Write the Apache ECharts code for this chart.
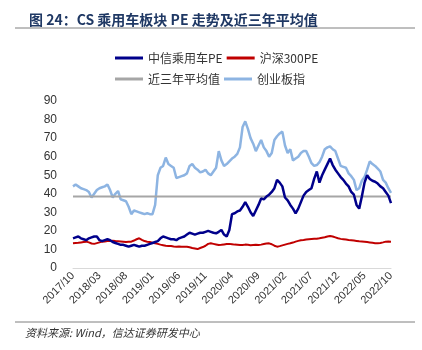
<!DOCTYPE html>
<html>
<head>
<meta charset="utf-8">
<script src="https://cdn.jsdelivr.net/npm/echarts@6/dist/echarts.min.js"></script>
<style>
  html, body { margin: 0; padding: 0; background: #fff; }
  #main { width: 422px; height: 350px; }
</style>
</head>
<body>
<div id="main"></div>
<script>
// 半月频率，2017/10 - 2022/10
var months = ['2017/10','2017/11','2017/12','2018/01','2018/02','2018/03','2018/04','2018/05','2018/06','2018/07','2018/08','2018/09','2018/10','2018/11','2018/12',
  '2019/01','2019/02','2019/03','2019/04','2019/05','2019/06','2019/07','2019/08','2019/09','2019/10','2019/11','2019/12',
  '2020/01','2020/02','2020/03','2020/04','2020/05','2020/06','2020/07','2020/08','2020/09','2020/10','2020/11','2020/12',
  '2021/01','2021/02','2021/03','2021/04','2021/05','2021/06','2021/07','2021/08','2021/09','2021/10','2021/11','2021/12',
  '2022/01','2022/02','2022/03','2022/04','2022/05','2022/06','2022/07','2022/08','2022/09','2022/10'];
var categories = [];
months.forEach(function (m, i) {
  categories.push(m);
  if (i < months.length - 1) categories.push(m + '/16');
});

var carPE = [16,16.5,17,16,15.5,15,16,16.5,17,17,15,14.5,15,15.5,15,14,13.5,13,12.5,12.5,
  12,11.5,12,12.5,12,11.5,12,12,12.5,13,13.5,14,14.5,16,17,16.5,16,15.5,15.5,15,
  16,16.5,17,18,19,18.5,18,18.5,19,19,19.5,20,19.5,19,18.7,19.5,20.5,18,17,20.5,
  29,29.5,30.5,31,33,35.5,33,30,28,31,34,37.5,37,38.5,39.5,41,43,47.5,46,44,
  38,36.5,34,32,29.5,32,35.5,39,41,42,43,48,52,46,50,53,56,59,55.5,53,
  51,49,47.5,45.5,44,41,39.5,34,32,38.5,46,50,48,47,46.5,45.5,44,43,41,39,35];

var hs300PE = [13.3,13.5,13.6,13.8,14,14.2,13.8,13.2,13,13.4,13.8,14.2,14.3,14.5,14.6,14.7,14.5,14.4,14.3,14.2,
  14,14.1,14.2,14.8,15.5,16,15.2,14.5,14.2,14,13.6,13.3,13,12.6,12.3,12,11.9,11.8,11.6,11.5,
  11.6,11.5,11.4,11.5,11.2,10.8,10.5,10.2,10.8,11.3,12,13,13.3,13,12.7,12.4,12.5,12.7,12.9,13,
  12.8,12.6,12.5,12.4,12.4,12.6,12.5,12.3,12.4,12.5,12.4,12.6,12.9,13.2,13.3,12.8,12,11.5,11.8,12.2,
  12.6,13,13.3,13.7,14.2,14.6,15,15.1,15.3,15.5,15.6,15.7,15.8,16,16.3,16.6,17,17.3,17,16.5,
  16,15.7,15.5,15.3,15.1,15,14.8,14.6,14.4,14.3,14.2,14,13.8,13.6,13.4,13.3,13.5,13.8,14.2,14.3,14.2];

var cybIndex = [44,45,44,43,42.5,42,41,38,40,42,43,43.5,44,45,42,38,40,41.5,37,36.5,
  36,33,29,31,30.5,30,29.5,29,29.5,29,29,34,50,54,55,59.5,56,55,54,48.5,
  49,49.5,50,51,55,56,54,53,51.5,52,53,51,50,52,54,63,58,55,56,57.5,
  59,60,61.5,65,76,79,75,70,67,63,66,69,65,63,60,62,69,71,72.5,73.5,
  66,62,64,58,59,60,62,63,63,60,56.5,55,55.5,57,60,64,65,65.5,64,63,
  59,55,54.5,54,51,49.5,47.5,42,43,47,49,53,57.5,56,55,53.5,52,47.5,46,43,40.5];

var avgPE = 38.5;
var avgLine = categories.map(function () { return avgPE; });

var yTicks = [0, 10, 20, 30, 40, 50, 60, 70, 80, 90];

var chart = echarts.init(document.getElementById('main'));
var cjk = '"Noto Sans CJK SC", sans-serif';

chart.setOption({
  animation: false,
  title: {
    text: '图 24：CS 乘用车板块 PE 走势及近三年平均值',
    left: 24,
    top: 8,
    textStyle: { fontSize: 14, fontWeight: 'bold', color: '#1F3864', fontFamily: cjk }
  },
  graphic: [
    { type: 'line', shape: { x1: 15, y1: 28, x2: 415, y2: 28 }, style: { stroke: '#7f7f7f', lineWidth: 1 } },
    { type: 'line', shape: { x1: 15, y1: 322, x2: 415, y2: 322 }, style: { stroke: '#7f7f7f', lineWidth: 1 } },
    { type: 'text', left: 25, top: 327, style: { text: '资料来源: Wind，信达证券研发中心', fontSize: 11, fontStyle: 'italic', fill: '#333', fontFamily: cjk } }
  ],
  legend: [
    {
      data: ['中信乘用车PE', '沪深300PE'],
      left: 110, top: 47,
      itemWidth: 28, itemHeight: 3, itemGap: 4,
      icon: 'rect',
      textStyle: { fontSize: 12, color: '#333', fontFamily: cjk, width: 76 }
    },
    {
      data: ['近三年平均值', '创业板指'],
      left: 110, top: 68,
      itemWidth: 28, itemHeight: 3, itemGap: 4,
      icon: 'rect',
      textStyle: { fontSize: 12, color: '#333', fontFamily: cjk, width: 76 }
    }
  ],
  grid: { left: 73, right: 31, top: 101, bottom: 82 },
  xAxis: {
    type: 'category',
    data: categories,
    boundaryGap: false,
    axisLine: { lineStyle: { color: '#d9d9d9', width: 1 } },
    axisTick: { show: false },
    axisLabel: {
      interval: 9,
      rotate: 45,
      fontSize: 11,
      color: '#333',
      fontFamily: 'Liberation Sans, Arial, sans-serif',
      margin: 6
    }
  },
  yAxis: {
    type: 'value',
    min: yTicks[0],
    max: yTicks[yTicks.length - 1],
    interval: 10,
    splitLine: { show: false },
    axisLine: { show: false },
    axisTick: { show: false },
    axisLabel: { fontSize: 12, color: '#333', fontFamily: 'Liberation Sans, Arial, sans-serif', margin: 16 }
  },
  series: [
    {
      name: '中信乘用车PE', type: 'line', data: carPE, showSymbol: false, z: 4,
      itemStyle: { color: '#00008B' }, lineStyle: { color: '#00008B', width: 2.5 }
    },
    {
      name: '沪深300PE', type: 'line', data: hs300PE, showSymbol: false, z: 3,
      itemStyle: { color: '#C00000' }, lineStyle: { color: '#C00000', width: 2 }
    },
    {
      name: '近三年平均值', type: 'line', data: avgLine, showSymbol: false, z: 2,
      itemStyle: { color: '#A6A6A6' }, lineStyle: { color: '#A6A6A6', width: 2 }
    },
    {
      name: '创业板指', type: 'line', data: cybIndex, showSymbol: false, z: 1,
      itemStyle: { color: '#8DB4E2' }, lineStyle: { color: '#8DB4E2', width: 2.5 }
    }
  ]
});
</script>
</body>
</html>
